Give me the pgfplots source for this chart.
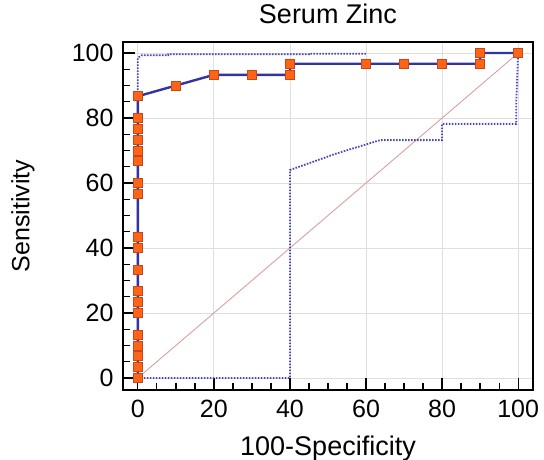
\documentclass[border=0pt]{standalone}
\usepackage{pgfplots}
\pgfplotsset{compat=1.18}
\usepackage{fontspec}
\setmainfont{Liberation Sans}

\definecolor{rocblue}{HTML}{3434A0}
\definecolor{markfill}{HTML}{FF6414}
\definecolor{markedge}{HTML}{C8461E}
\definecolor{bandblue}{HTML}{4848B8}
\definecolor{diag}{HTML}{D8A0A0}

\begin{document}
\begin{tikzpicture}[x=1pt,y=1pt]
\begin{axis}[
  name=roc,
  at={(0,0)}, anchor=south west,
  scale only axis,
  width=410pt, height=348pt,
  xmin=-3.9, xmax=103.9,
  ymin=-3.7, ymax=103.4,
  xtick={0,20,...,100}, ytick={0,20,...,100},
  minor tick num=3,
  tick align=inside,
  major tick length=12pt, minor tick length=7pt,
  every tick/.style={black, line width=1.3pt},
  xtick pos=bottom, ytick pos=left,
  grid=major,
  major grid style={gray!25, line width=0.8pt},
  axis line style={black, line width=1.6pt},
  tick label style={font=\fontsize{25}{29}\selectfont},
  xticklabel style={yshift=-7pt},
  yticklabel style={xshift=-6pt},
  /pgf/number format/assume math mode=true,
  title={Serum Zinc},
  title style={font=\fontsize{27}{31}\selectfont,
    at={(axis description cs:0.5,1.037)}, anchor=base},
  xlabel={100-Specificity},
  ylabel={Sensitivity},
  xlabel style={font=\fontsize{27}{31}\selectfont,
    at={(axis description cs:0.5,-0.187)}, anchor=base},
  ylabel style={font=\fontsize{25}{29}\selectfont,
    at={(axis description cs:-0.244,0.5)}, anchor=center},
  clip=false,
]
% chance diagonal
\addplot[diag, line width=0.9pt] coordinates {(0,0) (100,100)};
% upper confidence bound
\addplot[bandblue, dash pattern=on 1.6pt off 1.4pt, line width=1.8pt] coordinates {
  (0,0) (0,98.5) (1,99.3) (8,99.3) (8,99.6) (45,99.6) (45,99.8) (60,99.8)};
% lower confidence bound
\addplot[bandblue, dash pattern=on 1.6pt off 1.4pt, line width=1.8pt] coordinates {
  (0,0) (40,0) (40,64) (52,69) (63.7,73.2) (80,73.2) (80,78.2)
  (99.5,78.2) (99.5,85) (100,100)};
% ROC curve
\addplot[rocblue, line width=2.4pt, mark=square*, mark size=4.5pt,
  mark options={fill=markfill, draw=markedge, line width=0.6pt}] coordinates {
  (0,0) (0,3.3) (0,6.7) (0,10) (0,13.3) (0,20) (0,23.3) (0,26.7)
  (0,33.3) (0,40) (0,43.3) (0,56.7) (0,60) (0,66.7) (0,70) (0,73.3)
  (0,76.7) (0,80) (0,86.7) (10,90) (20,93.3) (30,93.3) (40,93.3)
  (40,96.7) (60,96.7) (70,96.7) (80,96.7) (90,96.7) (90,100) (100,100)};
\end{axis}
\pgfresetboundingbox
\path[use as bounding box] (-123,-70) rectangle (421,390);
\end{tikzpicture}
\end{document}
